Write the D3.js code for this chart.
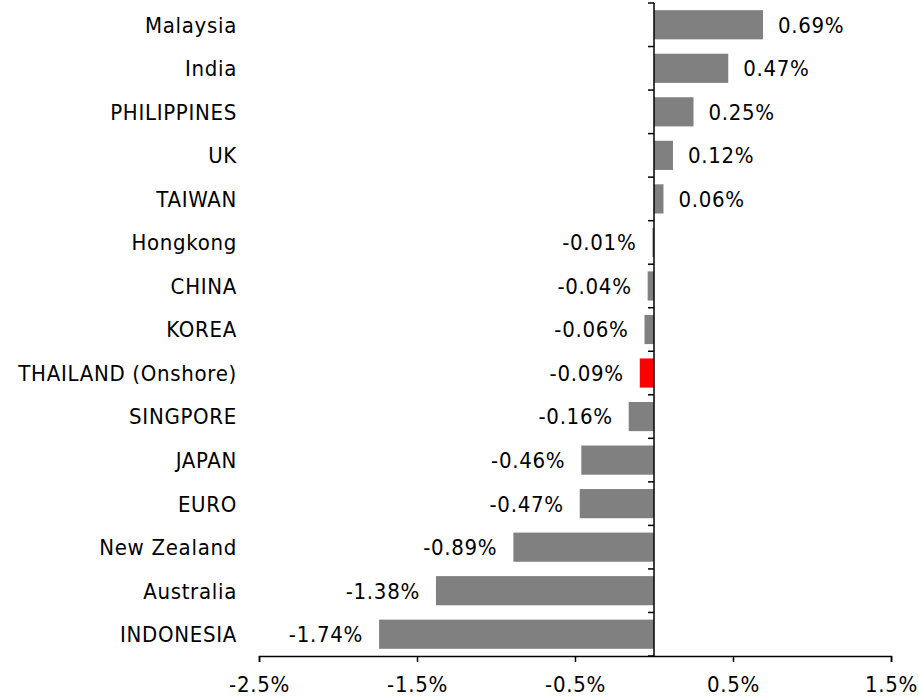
<!DOCTYPE html>
<html>
<head>
<meta charset="utf-8">
<script src="https://cdn.jsdelivr.net/npm/d3@7"></script>
<style>
  body { margin: 0; background: #fff; }
  svg { display: block; }
  text { font-family: Tahoma, "DejaVu Sans Condensed", "DejaVu Sans", sans-serif; font-size: 22px; letter-spacing: 0.7px; fill: #000; }
</style>
</head>
<body>
<svg id="chart" width="919" height="698"></svg>
<script>
// data
var countries = ["Malaysia", "India", "PHILIPPINES", "UK", "TAIWAN", "Hongkong", "CHINA", "KOREA",
  "THAILAND (Onshore)", "SINGPORE", "JAPAN", "EURO", "New Zealand", "Australia", "INDONESIA"];
var changes = [0.69, 0.47, 0.25, 0.12, 0.06, -0.01, -0.04, -0.06, -0.09, -0.16, -0.46, -0.47, -0.89, -1.38, -1.74];
var highlight = "THAILAND (Onshore)";
var xTicks = [-2.5, -1.5, -0.5, 0.5, 1.5];

var svg = d3.select("#chart");

var x = d3.scaleLinear().domain([-2.5, 1.5]).range([259, 891]);
var y = d3.scaleBand().domain(countries).range([3, 656]).paddingInner(0.33).paddingOuter(0.165);

var rows = countries.map(function(c, i) { return { name: c, value: changes[i] }; });

// bars
svg.append("g").selectAll("rect")
    .data(rows)
    .enter().append("rect")
      .attr("x", function(d) { return x(Math.min(0, d.value)); })
      .attr("y", function(d) { return y(d.name); })
      .attr("width", function(d) { return Math.abs(x(d.value) - x(0)); })
      .attr("height", y.bandwidth())
      .attr("fill", function(d) { return d.name == highlight ? "#ff0000" : "#808080"; });

// value labels
svg.append("g").selectAll("text")
    .data(rows)
    .enter().append("text")
      .attr("x", function(d) { return d.value >= 0 ? x(d.value) + 15 : x(d.value) - 16; })
      .attr("y", function(d) { return y(d.name) + y.bandwidth() / 2; })
      .attr("dy", "0.36em")
      .attr("text-anchor", function(d) { return d.value >= 0 ? "start" : "end"; })
      .text(function(d) { return d.value.toFixed(2) + "%"; });

// category labels
svg.append("g").selectAll("text")
    .data(countries)
    .enter().append("text")
      .attr("x", 237)
      .attr("y", function(d) { return y(d) + y.bandwidth() / 2; })
      .attr("dy", "0.36em")
      .attr("text-anchor", "end")
      .text(function(d) { return d; });

// vertical category axis at zero, ticks at band boundaries
var step = y.step();
var bounds = d3.range(countries.length + 1).map(function(i) { return 3 + i * step; });
var yAxis = svg.append("g");
yAxis.append("line")
    .attr("x1", x(0)).attr("x2", x(0))
    .attr("y1", 3).attr("y2", 656)
    .attr("stroke", "#000").attr("stroke-width", 1.5);
yAxis.selectAll(".yt")
    .data(bounds)
    .enter().append("line")
      .attr("class", "yt")
      .attr("x1", x(0) - 6).attr("x2", x(0))
      .attr("y1", function(d) { return d; }).attr("y2", function(d) { return d; })
      .attr("stroke", "#000").attr("stroke-width", 1.5);

// x axis
var xAxis = d3.axisBottom(x)
    .tickValues(xTicks)
    .tickSizeOuter(0)
    .tickSize(6)
    .tickPadding(14)
    .tickFormat(function(d) { return d.toFixed(1) + "%"; });

var gx = svg.append("g")
    .attr("transform", "translate(0,656)")
    .call(xAxis);
gx.select(".domain").attr("stroke", "#000").attr("stroke-width", 1.5);
gx.selectAll(".tick line").attr("stroke", "#000").attr("stroke-width", 1.5);
gx.selectAll(".tick text")
    .style("font-family", 'Tahoma, "DejaVu Sans Condensed", "DejaVu Sans", sans-serif')
    .style("font-size", "22px")
    .attr("fill", "#000");
</script>
</body>
</html>
